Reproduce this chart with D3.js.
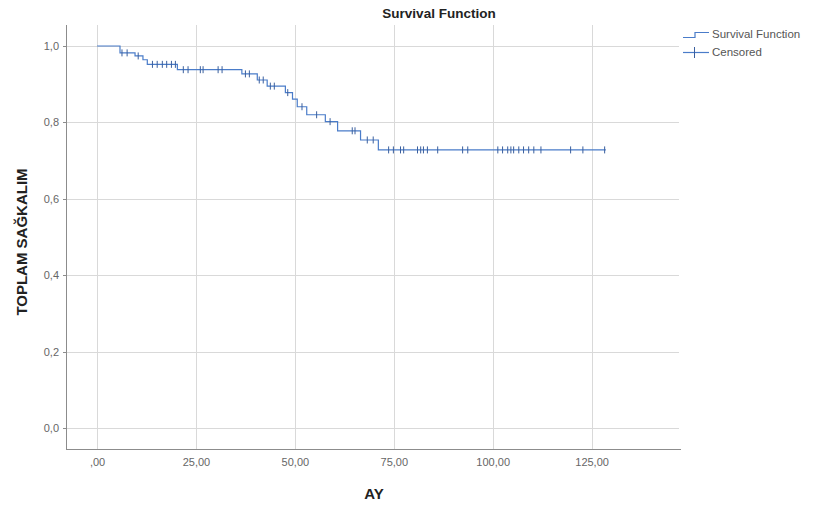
<!doctype html>
<html lang='tr'>
<head>
    <meta charset='UTF-8'>
    <title>Survival Function</title>
    <style>
        body,html{
            margin: 0;
            padding: 0;
            background: #fff;
            font-family: 'Liberation Sans', Arial, sans-serif;
        }
        .grid line{
            stroke: #d9d9d9;
            stroke-width: 1;
            shape-rendering: crispEdges;
        }
        .axis path,
        .axis line{
            fill: none;
            stroke: #8c8c8c;
            shape-rendering: crispEdges;
        }
        .axis text{
            fill: #666;
            font-size: 11px;
        }
        .km{
            fill: none;
            stroke: #4a7cc9;
            stroke-width: 1.2;
        }
        .cens{
            stroke: #3a5f9e;
            stroke-width: 1;
        }
        .title{
            font-size: 13.5px;
            font-weight: bold;
            fill: #222;
        }
        .lab{
            font-size: 15px;
            font-weight: bold;
            fill: #222;
        }
        .leg{
            font-size: 11.5px;
            fill: #555;
        }
    </style>
</head>
<body>
<script src='https://d3js.org/d3.v7.min.js'></script>
<script>
  // zaman (ay) ve sağkalım değerleri
  const eventTimes = [5.8, 9.6, 11.6, 12.7, 20.3, 36.6, 40.5, 43.0, 47.6, 49.4, 50.6, 53.0, 57.7, 60.8, 66.6, 71.1]
  const survival   = [0.982, 0.974, 0.964, 0.952, 0.938, 0.927, 0.911, 0.895, 0.878, 0.861, 0.841, 0.820, 0.802, 0.778, 0.754, 0.728]
  const censoredTimes = [6.3, 7.6, 10.4, 14.0, 15.2, 16.5, 17.6, 18.8, 19.8, 21.8, 23.0, 26.1, 26.8, 30.6, 31.6,
    37.5, 38.5, 41.0, 42.0, 43.8, 44.8, 48.2, 51.8, 55.5, 58.9, 64.5, 65.2, 68.3, 69.8,
    73.7, 74.9, 76.7, 77.5, 81.0, 81.8, 82.5, 83.5, 86.1, 92.4, 93.7, 101.3, 102.5, 103.8,
    104.6, 105.3, 106.6, 107.8, 109.1, 110.4, 112.2, 119.7, 122.8, 128.3]
  const endTime = 128.6
  const xTicks = [0, 25, 50, 75, 100, 125]
  const yTicks = [0, 0.2, 0.4, 0.6, 0.8, 1.0]

  const w = 817
  const h = 509
  const plot = {left: 66, right: 681, top: 25, bottom: 449}

  const x = d3.scaleLinear()
    .domain([-7.85, 147.6])
    .range([plot.left, plot.right])

  const y = d3.scaleLinear()
    .domain([-0.055, 1.055])
    .range([plot.bottom, plot.top])

  const comma = (v, n) => v.toFixed(n).replace('.', ',')

  const svg = d3.select('body').append('svg')
    .attr('width', w)
    .attr('height', h)

  // ızgara çizgileri
  const grid = svg.append('g').attr('class', 'grid')
  grid.selectAll('.gx')
    .data(xTicks)
    .enter().append('line')
    .attr('x1', d => Math.round(x(d)) + 0.5)
    .attr('x2', d => Math.round(x(d)) + 0.5)
    .attr('y1', plot.top)
    .attr('y2', plot.bottom)
  grid.selectAll('.gy')
    .data(yTicks)
    .enter().append('line')
    .attr('x1', plot.left)
    .attr('x2', plot.right - 2)
    .attr('y1', d => Math.round(y(d)) + 0.5)
    .attr('y2', d => Math.round(y(d)) + 0.5)

  // eksenler
  const xAxis = d3.axisBottom(x)
    .tickValues(xTicks)
    .tickSize(0)
    .tickPadding(9)
    .tickFormat(d => d === 0 ? ',00' : comma(d, 2))
  const yAxis = d3.axisLeft(y)
    .tickValues(yTicks)
    .tickSize(3)
    .tickPadding(4)
    .tickFormat(d => comma(d, 1))

  svg.append('g')
    .attr('class', 'x axis')
    .attr('transform', `translate(0, ${plot.bottom})`)
    .call(xAxis)
    .call(g => g.select('.domain').attr('d', `M${plot.left},0.5H${plot.right}`))

  svg.append('g')
    .attr('class', 'y axis')
    .attr('transform', `translate(${plot.left}, 0)`)
    .call(yAxis)
    .call(g => g.select('.domain').attr('d', `M0.5,${plot.top}V${plot.bottom}`))

  // sağkalım eğrisi
  const pts = [[0, 1]].concat(eventTimes.map((t, i) => [t, survival[i]]))
  pts.push([endTime, survival[survival.length - 1]])

  const line = d3.line()
    .x(d => x(d[0]))
    .y(d => y(d[1]))
    .curve(d3.curveStepAfter)

  svg.append('path')
    .attr('class', 'km')
    .attr('d', line(pts))

  const sAt = t => {
    const i = d3.bisectRight(eventTimes, t)
    return i === 0 ? 1 : survival[i - 1]
  }

  svg.append('g')
    .selectAll('line')
    .data(censoredTimes)
    .enter().append('line')
    .attr('class', 'cens')
    .attr('x1', d => x(d))
    .attr('x2', d => x(d))
    .attr('y1', d => y(sAt(d)) - 3.5)
    .attr('y2', d => y(sAt(d)) + 3.5)

  // başlık ve eksen adları
  svg.append('text')
    .attr('class', 'title')
    .attr('x', 439)
    .attr('y', 18)
    .attr('text-anchor', 'middle')
    .text('Survival Function')

  svg.append('text')
    .attr('class', 'lab')
    .attr('text-anchor', 'middle')
    .attr('transform', `translate(27, 242) rotate(-90)`)
    .text('TOPLAM SAĞKALIM')

  svg.append('text')
    .attr('class', 'lab')
    .attr('x', 374)
    .attr('y', 499)
    .attr('text-anchor', 'middle')
    .text('AY')

  // lejant
  const leg = svg.append('g')
  leg.append('path')
    .attr('class', 'km')
    .attr('d', 'M683,37.5H695V32.5H709')
  leg.append('text')
    .attr('class', 'leg')
    .attr('x', 712)
    .attr('y', 38)
    .text('Survival Function')
  leg.append('path')
    .attr('class', 'km')
    .attr('d', 'M683,52.5H709')
  leg.append('line')
    .attr('class', 'cens')
    .attr('x1', 694.5).attr('x2', 694.5)
    .attr('y1', 47).attr('y2', 58)
  leg.append('text')
    .attr('class', 'leg')
    .attr('x', 712)
    .attr('y', 56)
    .text('Censored')
</script>
</body>
</html>
